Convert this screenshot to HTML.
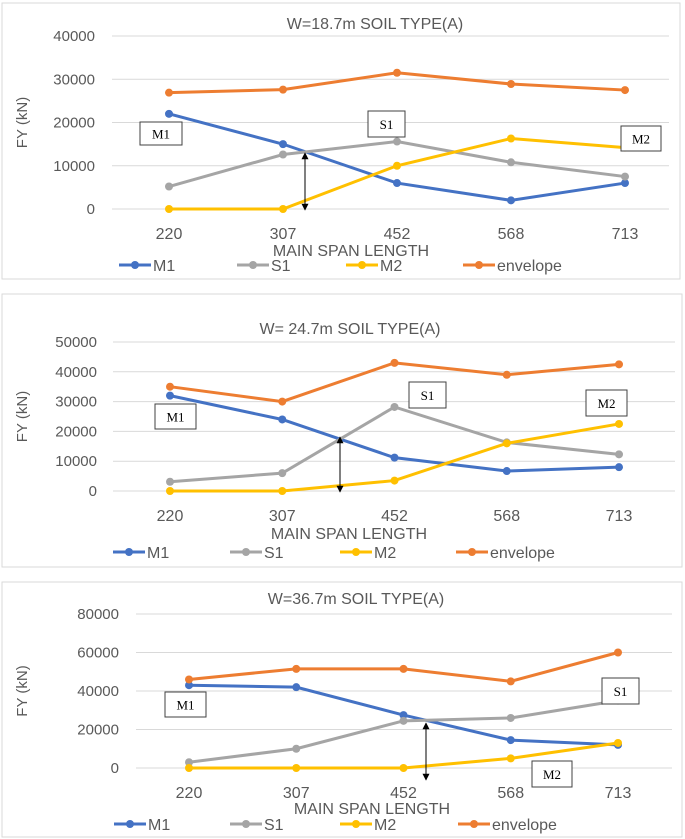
<!DOCTYPE html>
<html><head><meta charset="utf-8"><style>
body{margin:0;background:#fff;width:685px;height:839px;overflow:hidden;font-family:"Liberation Sans",sans-serif}
svg{position:absolute;left:0;top:0}
</style></head><body>
<svg id="s" width="685" height="839" xmlns="http://www.w3.org/2000/svg"></svg>
<script>
const categories = ["220","307","452","568","713"];
const seriesNames = ["M1","S1","M2","envelope"];
const c1M1 = [22000,15000,6000,2000,6000];
const c1S1 = [5200,12600,15600,10800,7500];
const c1M2 = [0,0,10000,16300,14200];
const c1Env = [26900,27600,31500,28900,27500];
const c1Ticks = [0,10000,20000,30000,40000];
const c2M1 = [32000,24000,11200,6700,8000];
const c2S1 = [3100,6000,28200,16300,12300];
const c2M2 = [0,0,3500,16000,22500];
const c2Env = [35000,30000,43000,39000,42500];
const c2Ticks = [0,10000,20000,30000,40000,50000];
const c3M1 = [43000,42000,27500,14500,12000];
const c3S1 = [3000,10000,24500,26000,35000];
const c3M2 = [0,0,0,5000,13000];
const c3Env = [46000,51500,51500,45000,60000];
const c3Ticks = [0,20000,40000,60000,80000];

const colors=["#4472C4","#A5A5A5","#FFC000","#ED7D31"];
const NS="http://www.w3.org/2000/svg";
const svg=document.getElementById('s');
function mk(tag,attrs,parent,text){const e=document.createElementNS(NS,tag);for(const k in attrs)e.setAttribute(k,attrs[k]);if(text!==undefined)e.textContent=text;(parent||svg).appendChild(e);return e;}

const charts=[
 {id:"chart-1",title:"W=18.7m SOIL TYPE(A)",fy:[3,279],fx:[2,680],ty:23,tx:375,gl:112,gr:669,y0:209,yTop:36,xs:[169,625],tickR:95,xly:233,aty:250,atx:351,ly:265,lx:[119,237,346,463],ticks:c1Ticks,series:[c1M1,c1S1,c1M2,c1Env],
  boxes:[["M1",140,122,42,23],["S1",368,111,37,26],["M2",621,126,40,25]],arrow:[305,153,210]},
 {id:"chart-2",title:"W= 24.7m SOIL TYPE(A)",fy:[294,567],fx:[2,682],ty:328,tx:350,gl:113,gr:675,y0:491,yTop:342,xs:[170,619],tickR:97,xly:515,aty:533,atx:349,ly:552,lx:[113,230,340,456],ticks:c2Ticks,series:[c2M1,c2S1,c2M2,c2Env],
  boxes:[["M1",155,404,41,25],["S1",409,382,37,26],["M2",586,390,41,26]],arrow:[340,437,492]},
 {id:"chart-3",title:"W=36.7m SOIL TYPE(A)",fy:[582,837],fx:[2,682],ty:598,tx:356,gl:136,gr:672,y0:768,yTop:614,xs:[189,618],tickR:119,xly:792,aty:808,atx:372,ly:824,lx:[114,230,340,458],ticks:c3Ticks,series:[c3M1,c3S1,c3M2,c3Env],
  boxes:[["M1",165,692,41,25],["S1",602,678,37,26],["M2",532,761,40,26]],arrow:[426,723,780]}
];

mk('defs',{}).innerHTML='<marker id="ah" viewBox="0 0 10 10" refX="9" refY="5" markerWidth="7" markerHeight="7" orient="auto-start-reverse"><path d="M0,0L10,5L0,10z" fill="#000"/></marker>';

charts.forEach(c=>{
 const g=mk('g',{});
 
 
 const fr=mk('rect',{x:c.fx[0],y:c.fy[0],width:c.fx[1]-c.fx[0],height:c.fy[1]-c.fy[0],fill:"#fff",stroke:"#d9d9d9","stroke-width":1},g);
 
 
 const maxT=c.ticks[c.ticks.length-1];
 const Y=v=>c.y0-(v/maxT)*(c.y0-c.yTop);
 const X=i=>c.xs[0]+i*(c.xs[1]-c.xs[0])/(categories.length-1);
 const t=mk('text',{x:c.tx,y:c.ty+6,"text-anchor":"middle","font-size":16,fill:"#595959"},g,c.title);
 
 
 c.ticks.forEach(v=>{
  const l=mk('line',{x1:c.gl,x2:c.gr,y1:Y(v),y2:Y(v),stroke:"#d9d9d9","stroke-width":1},g);
  
  
  const tl=mk('text',{x:c.tickR,y:Y(v)+5,"text-anchor":"end","font-size":15,fill:"#595959"},g,String(v));
  
  
 });
 categories.forEach((cat,i)=>{
  const tl=mk('text',{x:X(i),y:c.xly+6,"text-anchor":"middle","font-size":16,fill:"#595959"},g,cat);
  
  
 });
 const at=mk('text',{x:c.atx,y:c.aty+6,"text-anchor":"middle","font-size":16,fill:"#595959"},g,"MAIN SPAN LENGTH");
 
 
 const yc=(c.yTop+c.y0)/2;
 const yt=mk('text',{x:0,y:0,transform:`translate(${c.fx[0]+25},${yc}) rotate(-90)`,"text-anchor":"middle","font-size":15,fill:"#595959"},g,"FY (kN)");
 
 
 c.series.forEach((vals,si)=>{
  const pts=vals.map((v,i)=>X(i)+","+Y(v)).join(" ");
  const pl=mk('polyline',{points:pts,fill:"none",stroke:colors[si],"stroke-width":3},g);
  
  
  vals.forEach((v,i)=>{
   const p=mk('circle',{cx:X(i),cy:Y(v),r:4,fill:colors[si]},g);
   
   
  });
 });
 c.boxes.forEach(b=>{
  const bg=mk('g',{},g);
  
  
  mk('rect',{x:b[1],y:b[2],width:b[3],height:b[4],fill:"#fff",stroke:"#404040","stroke-width":1},bg);
  mk('text',{x:b[1]+b[3]/2,y:b[2]+b[4]/2+5,"text-anchor":"middle","font-size":13,"font-family":"Liberation Serif, serif",fill:"#000"},bg,b[0]);
 });
 const ar=mk('line',{x1:c.arrow[0],x2:c.arrow[0],y1:c.arrow[1],y2:c.arrow[2],stroke:"#000","stroke-width":1,"marker-start":"url(#ah)","marker-end":"url(#ah)"},g);
 
 
 seriesNames.forEach((n,si)=>{
  const lg=mk('g',{},g);
  
  
  const x=c.lx[si];
  mk('line',{x1:x,x2:x+32,y1:c.ly,y2:c.ly,stroke:colors[si],"stroke-width":3},lg);
  mk('circle',{cx:x+16,cy:c.ly,r:4,fill:colors[si]},lg);
  mk('text',{x:x+34,y:c.ly+6,"font-size":16,fill:"#595959"},lg,n);
 });
});
</script>
</body></html>
